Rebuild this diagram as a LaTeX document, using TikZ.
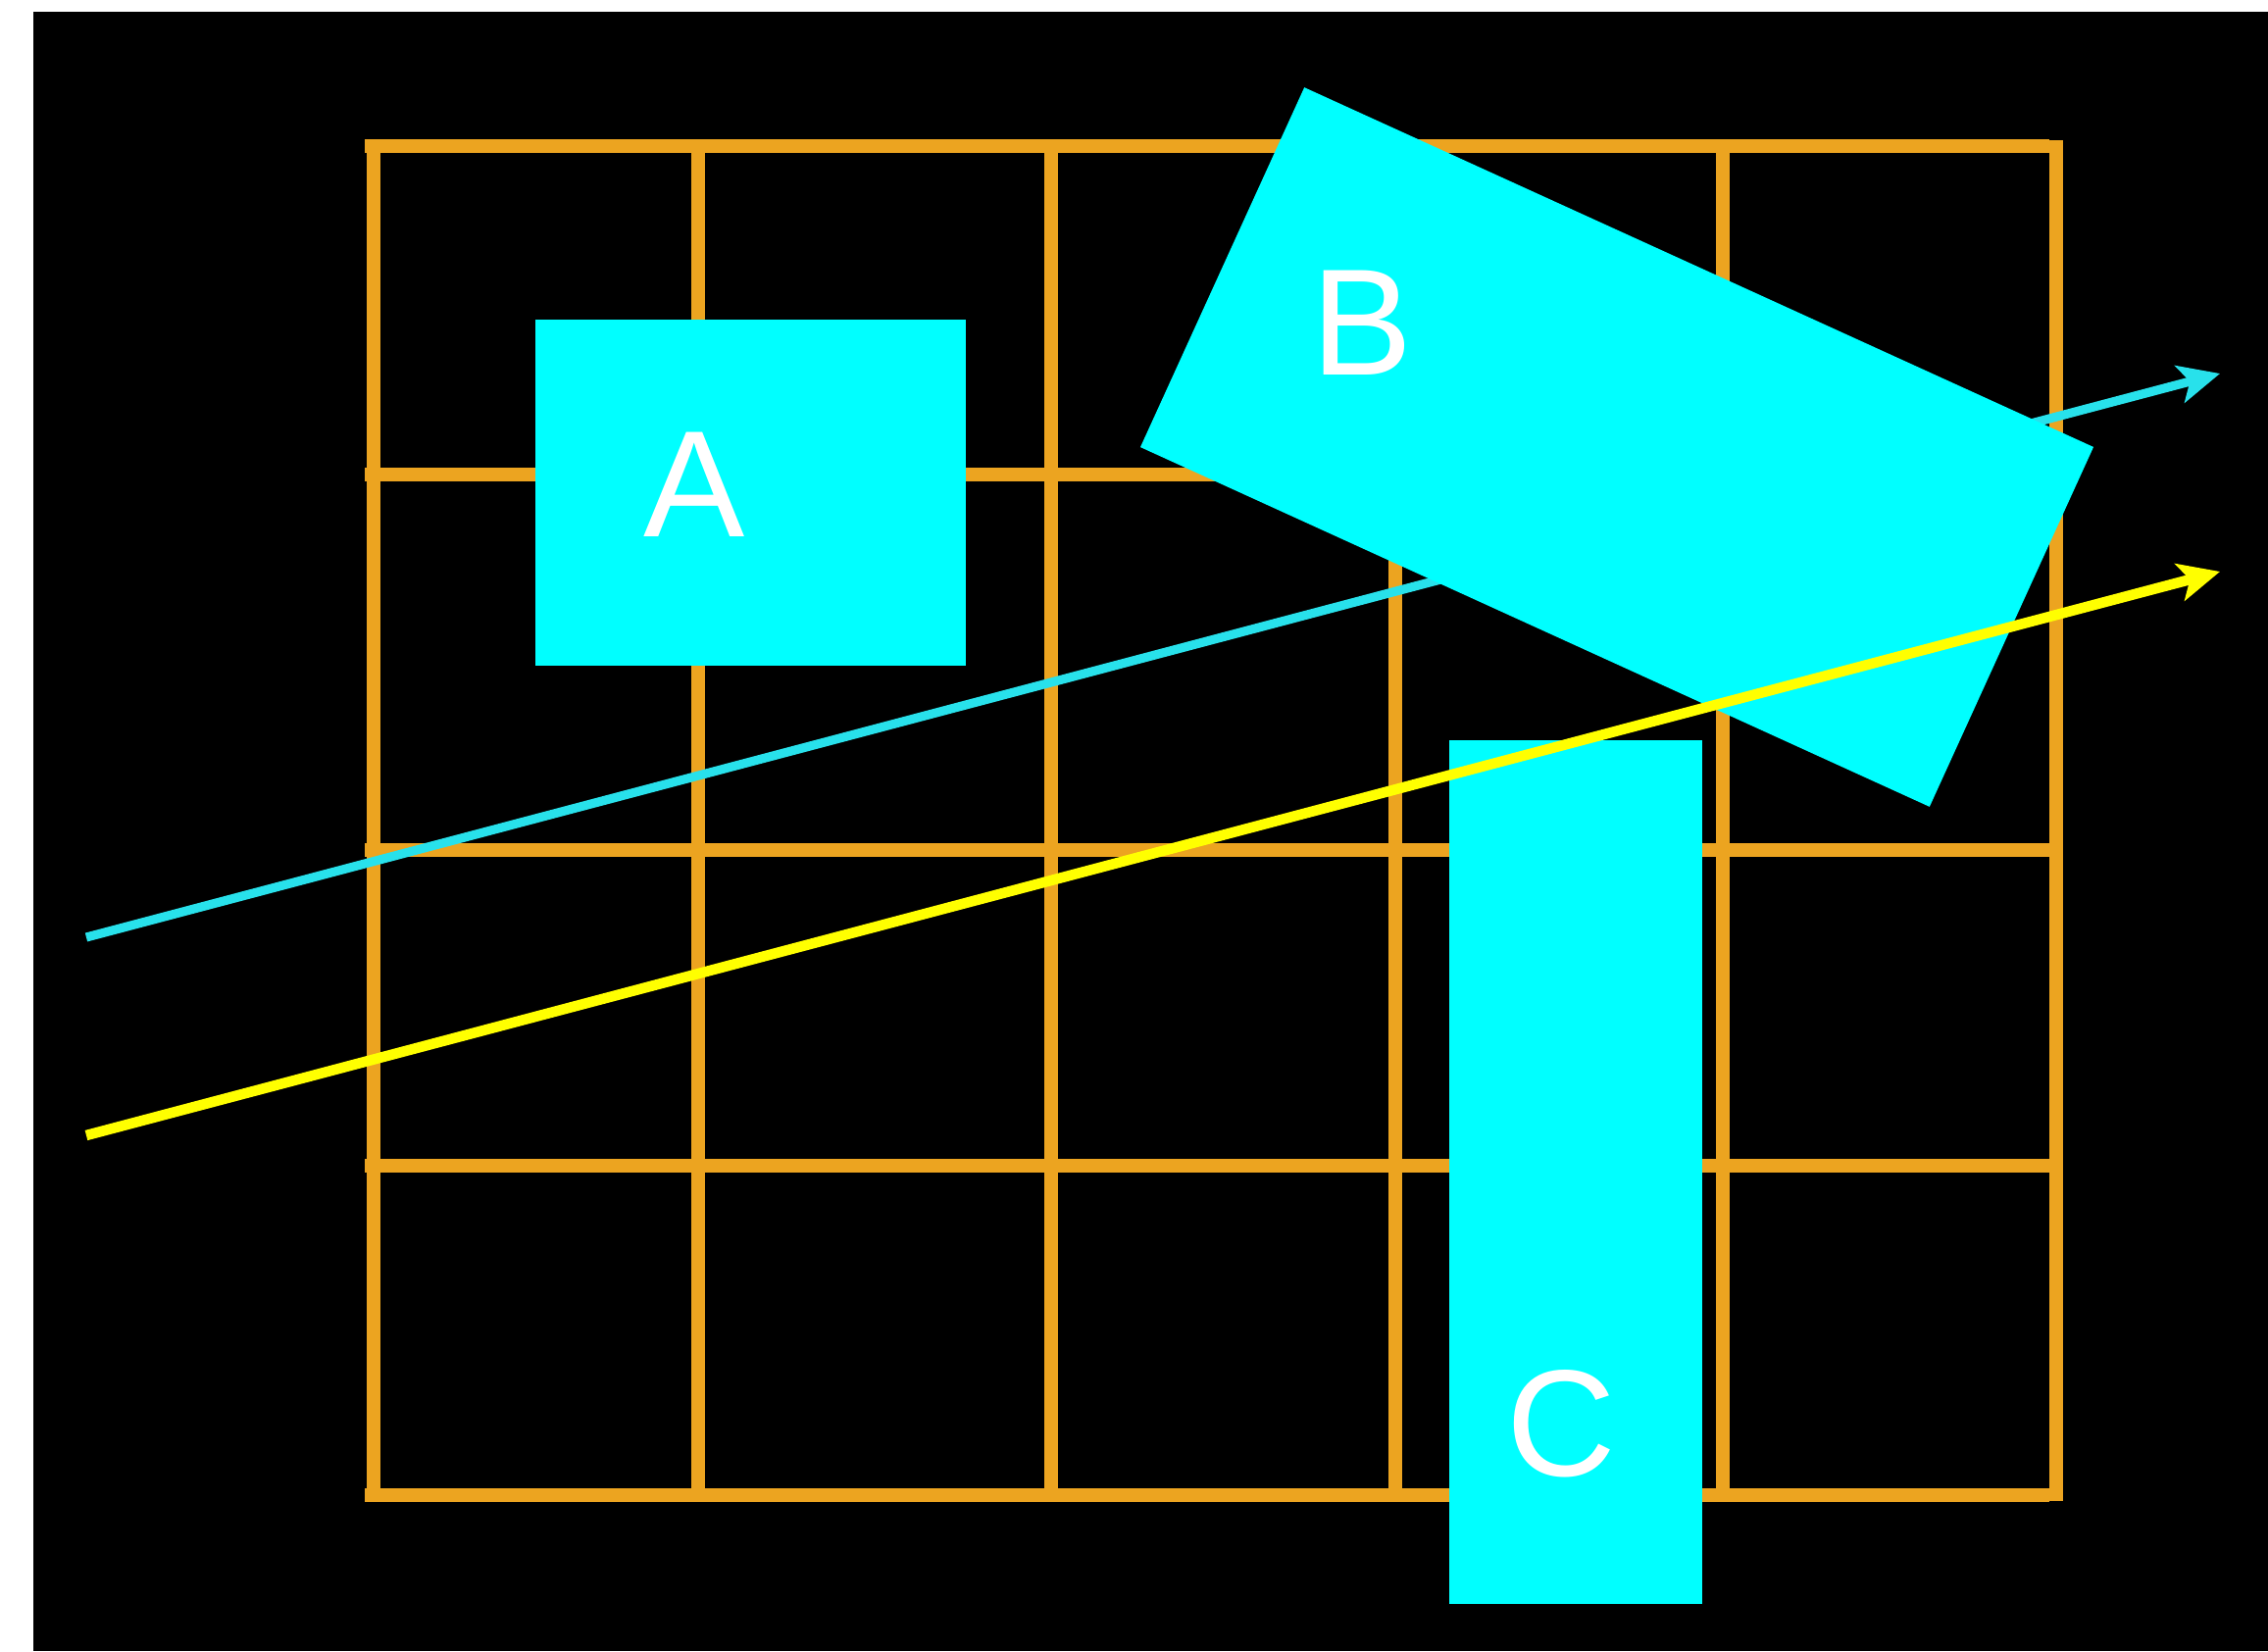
\documentclass[tikz,border=0pt]{standalone}
\usepackage{fontspec}
\setmainfont{Liberation Sans}
\usetikzlibrary{arrows.meta}
\definecolor{gridorange}{RGB}{236,164,32}
\definecolor{boxcyan}{RGB}{0,255,255}
\definecolor{raycyan}{RGB}{40,225,235}
\definecolor{rayyellow}{RGB}{255,255,0}
\tikzset{
  box/.style={fill=boxcyan, inner sep=0pt},
  boxlabel/.style={text=white, font=\fontsize{44}{44}\selectfont},
  ray/.style={line width=2.6pt, -{Stealth[length=12pt, width=11pt, inset=3pt]}}
}
\begin{document}
\begin{tikzpicture}[x=0.01cm, y=-0.01cm]
  \useasboundingbox (0,0) rectangle (2313,1684);
  \fill[white] (0,0) rectangle (2313,1684);
  \fill[black] (34,12) rectangle (2313,1684);
  % grid
  \foreach \gx in {381,712,1072,1423,1757,2097}
    \draw[gridorange, line width=3.8pt] (\gx,143) -- (\gx,1531);
  \foreach \gy in {149,484,867,1189,1525}
    \draw[gridorange, line width=3.8pt] (372,\gy) -- (2090,\gy);
  \coordinate (c1) at (88,956);
  \coordinate (c2) at (2264,381);
  \coordinate (y1) at (88,1158);
  \coordinate (y2) at (2264,583);
  \draw[ray, raycyan] (c1) -- (c2);
  \node[box, minimum width=4.39cm, minimum height=3.53cm] (A) at (765.5,502.5) {};
  \node[box, rotate=-24.5, minimum width=8.84cm, minimum height=4.03cm] (B) at (1649,456) {};
  \node[box, minimum width=2.58cm, minimum height=8.81cm] (C) at (1607,1195.5) {};
  \draw[ray, rayyellow, line width=3pt] (y1) -- (y2);
  \node[boxlabel] (la) at (708,494) {A};
  \node[boxlabel] (lb) at (1389,329) {B};
  \node[boxlabel] (lc) at (1592,1452) {C};
\end{tikzpicture}
\end{document}
